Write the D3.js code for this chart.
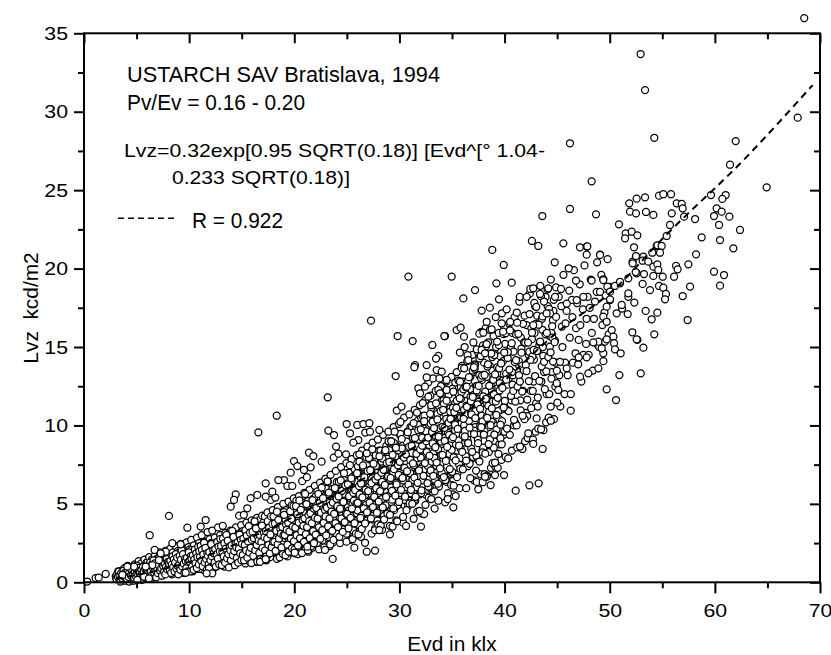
<!DOCTYPE html>
<html lang="en">
<head>
<meta charset="UTF-8">
<title>Lvz vs Evd</title>
<style>
  body { margin: 0; background: #fff; }
  svg text { font-family: "Liberation Sans", Arial, sans-serif; fill: #000; }
</style>
</head>
<body>
<div id="chart"></div>
<script src="https://d3js.org/d3.v7.min.js"></script>
<script>
// tick values
var xMajor = [0, 10, 20, 30, 40, 50, 60, 70];
var xMinor = [5, 15, 25, 35, 45, 55, 65];
var yMajor = [0, 5, 10, 15, 20, 25, 30, 35];
var yMinor = [2.5, 7.5, 12.5, 17.5, 22.5, 27.5, 32.5];

// dashed fit curve
var fitEvd = [3, 10, 20, 30, 38.6, 45.3, 50.3, 55.3, 62.7, 69.3];
var fitLvz = [0.2, 1.3, 4.2, 8.0, 12.05, 16.1, 18.6, 22.1, 26.9, 31.7];

// points that stand apart, read one by one  [Evd, Lvz]
var sparsePts = [
  [68.5,35.97],[52.94,33.68],[53.36,31.38],[54.24,28.34],[46.22,27.99],[61.98,28.13],[67.88,29.62],[61.44,26.62],
  [48.28,25.56],[64.93,25.18],[46.22,23.8],[48.7,23.46],[51.86,24.16],[52.56,24.46],[53.36,24.54],[54.69,24.65],
  [55.1,24.74],[55.83,24.74],[56.37,24.16],[56.85,24.12],[56.94,23.84],[53.45,23.61],[54.15,23.42],[51.93,23.63],
  [52.5,23.52],[55.9,23.52],[57.07,23.31],[58.12,23.16],[59.63,24.69],[61.03,24.69],[60.71,24.44],[60.17,23.84],
  [60.65,23.63],[61.38,23.31],[59.92,23.35],[60.4,22.78],[62.39,22.46],[58.75,21.99],[60.49,21.82],[61.76,21.29],
  [50.88,22.82],[51.52,22.25],[52.09,22.35],[52.63,22.12],[51.46,21.93],[55.42,22.08],[55.73,22.78],[54.47,21.44],
  [54.78,21.44],[52.31,21.36],[47.17,21.36],[47.81,21.4],[45.59,21.61],
  [43.59,23.35],[42.6,21.76],[43.21,21.44],[47.87,21.42],[47.81,20.89],[49.08,20.89],[38.83,21.19],[39.92,20.23],
  [44.77,20.4],[46.1,20.02],[52.18,20.44],[37.19,18.63],[39.22,19.06],[40.68,19.1],[36.08,18.1],[39.47,18.04],
  [37.82,17.32],[38.6,17.51],[38.3,16.61],[39.73,16.51],[34.33,15.7],[35.44,16.08],[35.82,16.23],[37.82,15.93],
  [37.6,15.85],[40.51,16.06],[41.2,16.55],[42.1,18.2],[42.73,18.74],[43.37,18.38],[43.75,17.9],[44.32,17.14],
  [44.0,17.14],[42.73,16.4],[44.16,18.74],[45.37,18.7],[46.79,19.24],[48.28,19.24],[49.39,19.32],[44.8,18.2],
  [45.91,17.77],[46.86,17.99],[47.49,18.2],[48.76,18.52],[49.08,18.52],[50.03,18.84],[50.98,19.06],[51.77,19.38],
  [52.56,19.7],[51.77,18.2],[51.17,17.45],[50.03,17.99],
  [58.21,20.91],[57.48,20.27],[56.31,20.17],[56.46,19.95],[56.12,19.48],[59.92,19.8],[60.87,19.59],[60.49,18.91],
  [57.64,18.85],[56.94,18.25],[57.41,16.72],[54.53,17.19],[53.99,16.77],[53.42,17.3],[54.24,15.81],[52.15,15.94],
  [52.63,15.45],[53.2,14.96],[52.5,20.8],[53.2,20.76],[54.05,21.01],[54.53,21.48],[54.94,21.44],[54.78,21.01],
  [52.18,20.34],[53.13,20.5],[53.67,20.44],[54.15,20.12],[54.53,20.27],[54.62,19.91],[54.15,19.53],[53.26,19.65],
  [52.47,19.78],[55.04,19.48],[53.83,18.63],[54.69,18.89],[55.1,18.78],[55.35,18.38],[55.26,18.04],[53.13,19.02],
  [51.77,18.42],[52.34,17.83],[51.14,17.68],[50.66,17.15],[51.71,17.1],[50.03,18.04],[49.39,19.27],[49.08,20.87],
  [49.78,18.85],[50.5,18.89],[50.98,19.16],[50.03,18.53],[49.71,17.57],[49.39,16.93],[49.71,16.61],[50.19,16.08],
  [50.35,15.66],[49.55,15.34],[50.41,15.24],[50.5,14.85],[51.04,14.6],[49.39,14.6],
  [52.56,15.49],[49.71,15.49],[49.24,14.92],[48.92,15.34],[48.44,15.3],[47.05,15.45],[47.81,14.34],[47.05,14.34],
  [48.92,13.64],[47.97,13.32],[47.18,13.11],[50.92,13.21],[52.95,13.32],[49.71,12.3],[50.6,11.62],[46.29,10.94],
  [45.91,13.64],[45.27,14.06],[44.96,12.69],[45.11,12.26],[45.02,11.45],[44.39,11.2],[44.39,10.3],[43.47,9.75],
  [43.05,10.45],[41.72,10.62],[43.62,8.5],[42.73,8.82],[42.26,9.5],[41.47,8.65],[39.95,6.84],[39.09,7.63],
  [38.3,6.73],[41.06,5.84],[42.36,6.18],[43.24,6.31],
  [30.85,19.49],[34.97,19.49],[27.3,16.68],[29.83,15.7],[31.26,15.38],[34.27,15.7],[33.13,15.13],[36.14,15.66],
  [38.77,16.13],[37.98,15.91],[37.35,14.85],[37.82,14.81],[38.14,14.6],[36.55,14.17],[37.09,13.71],[33.7,14.43],
  [33.48,14.26],[31.48,13.85],[31.42,13.71],[32.59,13.85],[29.64,13.15],[33.54,13.53],[34.02,13.43],[33.8,13.0],
  [34.49,12.9],[32.59,13.07],[31.8,12.37],[32.43,12.47],[31.96,12.05],[32.75,11.83],[33.7,12.26],[33.86,12.05],
  [34.49,12.26],[35.13,12.15],[35.76,12.79],[36.4,12.47],[23.18,11.79],[24.98,10.09],[25.99,10.03],[26.57,10.09],
  [27.14,10.14],[23.24,9.67],[23.78,9.39],[25.3,9.5],[26.09,9.07],[28.09,9.71],[21.4,8.26],[21.81,8.05],
  [23.97,8.65],[24.92,8.16],[25.62,8.9],[26.19,8.16],[26.89,8.22],
  [0.3,0.05],[1.1,0.27],[1.4,0.3],[2.06,0.53],[18.33,10.62],[16.58,9.56],[8.08,4.23],[6.25,3.0],
  [6.72,2.06],[19.97,7.73],[20.29,7.41],[20.92,7.16],[21.56,7.33],[19.66,6.99],[19.02,6.52],[18.48,6.52],
  [19.34,6.14],[19.81,6.14],[17.28,6.31],[17.91,5.78],[17.28,5.46],[14.43,5.61],[14.27,5.25],[15.85,5.36],
  [16.48,5.57],[13.95,4.82],[15.53,4.72],[11.57,3.97],[11.1,3.55],[9.83,3.48],[8.4,2.49],[9.19,2.42],
  [7.77,1.95],[7.29,1.85],[7.13,1.42],[6.5,1.1],[5.87,1.0],[4.76,1.0],[4.12,1.0],[3.65,0.47],
  [5.71,0.36],[6.18,0.25],[5.07,0.15],[11.89,0.89],[12.2,0.57],[11.66,0.57],[9.67,0.61],[16.74,1.31],
  [17.28,1.47],[20.04,1.89],[21.24,2.27],[21.87,2.49],
  [23.65,1.49],[25.71,2.21],[26.89,1.95],[27.68,2.02],[26.73,2.52],[28.09,3.33],[29.1,3.06],[30.63,3.59],
  [32.05,3.55],[35.13,4.78],[34.59,5.31],[37.5,5.93],[38.68,6.2],[37.92,6.38],[39.09,6.84],[38.14,6.73],
  [22.92,2.06],[22.6,7.69]
];

// dense band, Evd 3 - 13
var bandLow = [
  [3.1,0.2],[3.2,0.45],[3.3,0.3],[3.35,0.6],[3.4,0.15],[3.5,0.5],[3.55,0.35],[3.6,0.75],[3.7,0.25],[3.75,0.55],
  [3.8,0.4],[3.85,0.9],[3.9,0.1],[3.95,0.65],[3.45,0.05],[3.65,0.45],[3.25,0.7],[3.85,0.3],
  [4.0,0.3],[4.05,0.8],[4.1,0.55],[4.15,1.05],[4.2,0.2],[4.25,0.65],[4.3,0.4],[4.35,0.9],[4.4,0.5],[4.45,0.15],
  [4.5,0.7],[4.55,0.35],[4.6,1.0],[4.65,0.55],[4.7,0.25],[4.75,0.8],[4.8,0.45],[4.85,1.15],[4.9,0.6],[4.95,0.3],
  [4.3,0.05],[4.7,0.1],
  [5.0,0.5],[5.05,1.1],[5.1,0.3],[5.15,0.75],[5.2,1.35],[5.25,0.45],[5.3,0.9],[5.35,0.2],[5.4,0.6],[5.45,1.2],
  [5.5,0.4],[5.55,0.8],[5.6,1.0],[5.65,0.55],[5.7,0.3],[5.75,1.45],[5.8,0.7],[5.85,0.95],[5.9,0.5],[5.95,1.25],
  [5.5,0.15],[5.2,0.65],
  [6.0,0.6],[6.05,1.3],[6.1,0.4],[6.15,0.95],[6.2,1.6],[6.25,0.7],[6.3,1.1],[6.35,0.35],[6.4,0.85],[6.45,1.45],
  [6.5,0.55],[6.55,1.0],[6.6,1.25],[6.65,0.75],[6.7,0.45],[6.75,1.7],[6.8,0.9],[6.85,1.15],[6.9,0.6],[6.95,1.5],
  [6.5,0.3],[6.8,0.4],
  [7.0,0.7],[7.05,1.5],[7.1,0.5],[7.15,1.1],[7.2,1.9],[7.25,0.8],[7.3,1.3],[7.35,0.45],[7.4,1.0],[7.45,1.7],
  [7.5,0.65],[7.55,1.2],[7.6,1.45],[7.65,0.9],[7.7,0.55],[7.75,2.0],[7.8,1.05],[7.85,1.35],[7.9,0.75],[7.95,1.8],
  [7.3,0.6],[7.7,1.2],
  [8.0,0.8],[8.05,1.7],[8.1,0.6],[8.15,1.25],[8.2,2.15],[8.25,0.95],[8.3,1.45],[8.35,0.5],[8.4,1.15],[8.45,1.9],
  [8.5,0.75],[8.55,1.35],[8.6,1.6],[8.65,1.0],[8.7,0.65],[8.75,2.3],[8.8,1.2],[8.85,1.5],[8.9,0.85],[8.95,2.0],
  [8.3,1.05],[8.7,1.3],[8.5,0.55],
  [9.0,0.9],[9.05,1.9],[9.1,0.7],[9.15,1.4],[9.2,2.45],[9.25,1.05],[9.3,1.6],[9.35,0.6],[9.4,1.3],[9.45,2.1],
  [9.5,0.85],[9.55,1.5],[9.6,1.8],[9.65,1.15],[9.7,0.75],[9.75,2.55],[9.8,1.35],[9.85,1.65],[9.9,0.95],[9.95,2.25],
  [9.3,1.2],[9.7,1.45],[9.5,1.0],
  [10.0,1.0],[10.05,2.1],[10.1,0.75],[10.15,1.55],[10.2,2.7],[10.25,1.2],[10.3,1.8],[10.35,0.7],[10.4,1.45],[10.45,2.35],
  [10.5,0.95],[10.55,1.65],[10.6,2.0],[10.65,1.3],[10.7,0.85],[10.75,2.85],[10.8,1.5],[10.85,1.85],[10.9,1.1],[10.95,2.5],
  [10.3,1.35],[10.7,1.6],[10.5,1.15],[10.2,1.25],[10.85,1.4],
  [11.0,1.1],[11.05,2.3],[11.1,0.85],[11.15,1.7],[11.2,3.0],[11.25,1.35],[11.3,2.0],[11.35,0.8],[11.4,1.6],[11.45,2.6],
  [11.5,1.05],[11.55,1.8],[11.6,2.2],[11.65,1.45],[11.7,0.95],[11.75,3.2],[11.8,1.65],[11.85,2.05],[11.9,1.2],[11.95,2.75],
  [11.3,1.5],[11.7,1.75],[11.5,1.3],[11.2,1.45],[11.85,1.55],
  [12.0,1.2],[12.05,2.5],[12.1,0.95],[12.15,1.85],[12.2,3.3],[12.25,1.5],[12.3,2.2],[12.35,0.9],[12.4,1.75],[12.45,2.85],
  [12.5,1.15],[12.55,2.0],[12.6,2.4],[12.65,1.6],[12.7,1.05],[12.75,3.5],[12.8,1.8],[12.85,2.25],[12.9,1.3],[12.95,3.0],
  [12.3,1.65],[12.7,1.9],[12.5,1.45],[12.2,1.6],[12.85,1.7]
];

// dense band, Evd 13 - 25
var bandMid = [
  [13.0,1.35],[13.05,2.75],[13.1,1.3],[13.15,2.05],[13.2,3.6],[13.25,1.65],[13.3,2.4],[13.35,1.0],[13.4,1.95],[13.45,3.15],
  [13.5,1.3],[13.55,2.2],[13.6,2.65],[13.65,1.75],[13.7,1.15],[13.75,3.1],[13.8,2.0],[13.85,2.5],[13.9,1.45],[13.95,3.3],
  [13.3,1.85],[13.7,2.1],[13.5,1.6],[13.2,1.75],[13.85,1.9],
  [14.0,1.5],[14.05,3.0],[14.1,1.15],[14.15,2.25],[14.2,3.2],[14.25,1.8],[14.3,2.65],[14.35,1.1],[14.4,2.15],[14.45,3.5],
  [14.5,1.4],[14.55,2.4],[14.6,2.9],[14.65,1.95],[14.7,1.6],[14.75,4.25],[14.8,2.2],[14.85,2.75],[14.9,1.6],[14.95,3.65],
  [14.3,2.05],[14.7,2.3],[14.5,1.75],[14.2,1.9],[14.85,2.1],
  [15.0,1.65],[15.05,3.25],[15.1,1.6],[15.15,2.45],[15.2,4.3],[15.25,1.95],[15.3,2.9],[15.35,1.2],[15.4,2.35],[15.45,3.8],
  [15.5,1.55],[15.55,2.6],[15.6,3.15],[15.65,2.15],[15.7,1.35],[15.75,3.4],[15.8,2.4],[15.85,3.0],[15.9,1.75],[15.95,3.95],
  [15.3,2.25],[15.7,2.5],[15.5,1.9],[15.2,2.1],[15.85,2.3],
  [16.0,1.8],[16.05,3.5],[16.1,1.8],[16.15,2.65],[16.2,3.7],[16.25,2.1],[16.3,3.15],[16.35,1.3],[16.4,2.55],[16.45,4.1],
  [16.5,1.7],[16.55,2.8],[16.6,3.4],[16.65,2.3],[16.7,1.9],[16.75,4.0],[16.8,2.6],[16.85,3.25],[16.9,1.9],[16.95,4.25],
  [16.3,2.45],[16.7,2.7],[16.5,2.05],[16.2,2.25],[16.85,2.5],
  [17.0,1.95],[17.05,3.8],[17.1,1.45],[17.15,2.9],[17.2,4.2],[17.25,2.3],[17.3,3.4],[17.35,1.4],[17.4,2.8],[17.45,4.45],
  [17.5,1.85],[17.55,3.05],[17.6,3.7],[17.65,2.5],[17.7,1.6],[17.75,5.25],[17.8,2.85],[17.85,3.55],[17.9,2.1],[17.95,4.6],
  [17.3,2.65],[17.7,2.95],[17.5,2.25],[17.2,2.45],[17.85,2.75],
  [18.0,2.1],[18.05,4.1],[18.1,2.1],[18.15,3.15],[18.2,5.4],[18.25,2.5],[18.3,3.7],[18.35,1.5],[18.4,3.0],[18.45,4.8],
  [18.5,2.0],[18.55,3.3],[18.6,4.0],[18.65,2.7],[18.7,2.2],[18.75,4.3],[18.8,3.1],[18.85,3.85],[18.9,2.3],[18.95,5.0],
  [18.3,2.85],[18.7,3.2],[18.5,2.45],[18.2,2.65],[18.85,2.95],
  [19.0,2.25],[19.05,4.4],[19.1,2.3],[19.15,3.35],[19.2,4.6],[19.25,2.7],[19.3,3.95],[19.35,1.65],[19.4,3.2],[19.45,5.15],
  [19.5,2.15],[19.55,3.55],[19.6,4.3],[19.65,2.9],[19.7,1.9],[19.75,4.9],[19.8,3.3],[19.85,4.1],[19.9,2.45],[19.95,5.35],
  [19.3,3.05],[19.7,3.45],[19.5,2.6],[19.2,2.85],[19.85,3.15],
  [20.0,2.4],[20.05,4.75],[20.1,1.85],[20.15,3.6],[20.2,5.2],[20.25,2.9],[20.3,4.25],[20.35,1.8],[20.4,3.45],[20.45,5.5],
  [20.5,2.3],[20.55,3.8],[20.6,4.6],[20.65,3.1],[20.7,2.6],[20.75,6.45],[20.8,3.55],[20.85,4.4],[20.9,2.6],[20.95,5.7],
  [20.3,3.3],[20.7,3.7],[20.5,2.8],[20.2,3.05],[20.85,3.4],
  [21.0,2.6],[21.05,5.1],[21.1,2.6],[21.15,3.9],[21.2,6.7],[21.25,3.15],[21.3,4.6],[21.35,1.95],[21.4,3.75],[21.45,5.9],
  [21.5,2.5],[21.55,4.1],[21.6,5.0],[21.65,3.35],[21.7,2.2],[21.75,5.3],[21.8,3.85],[21.85,4.75],[21.9,2.8],[21.95,6.15],
  [21.3,3.6],[21.7,4.0],[21.5,3.05],[21.2,3.3],[21.85,3.7],
  [22.0,2.8],[22.05,5.5],[22.1,2.9],[22.15,4.2],[22.2,5.8],[22.25,3.4],[22.3,4.95],[22.35,2.1],[22.4,4.05],[22.45,6.35],
  [22.5,2.7],[22.55,4.4],[22.6,5.4],[22.65,3.6],[22.7,3.0],[22.75,6.1],[22.8,4.15],[22.85,5.1],[22.9,3.0],[22.95,6.6],
  [22.3,3.9],[22.7,4.3],[22.5,3.3],[22.2,3.55],[22.85,4.0],
  [23.0,3.05],[23.05,5.95],[23.1,2.35],[23.15,4.6],[23.2,6.4],[23.25,3.7],[23.3,5.35],[23.35,2.3],[23.4,4.45],[23.45,6.85],
  [23.5,2.95],[23.55,4.8],[23.6,5.8],[23.65,3.95],[23.7,2.55],[23.75,7.95],[23.8,4.5],[23.85,5.5],[23.9,3.25],[23.95,7.1],
  [23.3,4.25],[23.7,4.7],[23.5,3.6],[23.2,3.9],[23.85,4.4],
  [24.0,3.3],[24.05,6.4],[24.1,3.3],[24.15,5.0],[24.2,8.2],[24.25,4.0],[24.3,5.8],[24.35,2.5],[24.4,4.85],[24.45,7.35],
  [24.5,3.2],[24.55,5.2],[24.6,6.25],[24.65,4.3],[24.7,3.4],[24.75,6.7],[24.8,4.9],[24.85,5.95],[24.9,3.5],[24.95,7.6],
  [24.3,4.6],[24.7,5.1],[24.5,3.9],[24.2,4.2],[24.85,4.75]
];

// dense band, Evd 25 - 37
var bandUp = [
  [25.0,3.55],[25.05,6.9],[25.1,3.6],[25.15,5.4],[25.2,7.0],[25.25,4.3],[25.3,6.25],[25.35,2.7],[25.4,5.2],[25.45,7.85],
  [25.5,3.45],[25.55,5.6],[25.6,6.75],[25.65,4.65],[25.7,3.0],[25.75,7.2],[25.8,5.3],[25.85,6.4],[25.9,3.8],[25.95,8.1],
  [25.3,4.95],[25.7,5.5],[25.5,4.2],[25.2,4.5],[25.85,5.15],
  [26.0,3.8],[26.05,7.4],[26.1,3.0],[26.15,5.8],[26.2,7.7],[26.25,4.6],[26.3,6.7],[26.35,2.9],[26.4,5.6],[26.45,8.4],
  [26.5,3.7],[26.55,6.0],[26.6,7.25],[26.65,5.0],[26.7,4.0],[26.75,9.55],[26.8,5.7],[26.85,6.85],[26.9,4.1],[26.95,8.65],
  [26.3,5.3],[26.7,5.9],[26.5,4.5],[26.2,4.85],[26.85,5.5],
  [27.0,4.1],[27.05,7.9],[27.1,4.2],[27.15,6.3],[27.2,9.6],[27.25,5.0],[27.3,7.2],[27.35,3.1],[27.4,6.1],[27.45,8.9],
  [27.5,4.0],[27.55,6.5],[27.6,7.8],[27.65,5.4],[27.7,3.45],[27.75,8.1],[27.8,6.2],[27.85,7.4],[27.9,4.4],[27.95,9.1],
  [27.3,5.75],[27.7,6.4],[27.5,4.9],[27.2,5.25],[27.85,6.0],
  [28.0,4.4],[28.05,8.4],[28.1,4.5],[28.15,6.8],[28.2,8.4],[28.25,5.4],[28.3,7.7],[28.35,3.35],[28.4,6.6],[28.45,9.4],
  [28.5,4.3],[28.55,7.0],[28.6,8.3],[28.65,5.8],[28.7,4.6],[28.75,8.7],[28.8,6.7],[28.85,7.9],[28.9,4.7],[28.95,9.6],
  [28.3,6.2],[28.7,6.9],[28.5,5.3],[28.2,5.65],[28.85,6.5],
  [29.0,4.7],[29.05,8.9],[29.1,3.6],[29.15,7.3],[29.2,9.0],[29.25,5.8],[29.3,8.2],[29.35,3.55],[29.4,7.1],[29.45,9.9],
  [29.5,4.6],[29.55,7.5],[29.6,8.8],[29.65,6.2],[29.7,3.95],[29.75,10.95],[29.8,7.2],[29.85,8.4],[29.9,5.0],[29.95,10.1],
  [29.3,6.7],[29.7,7.4],[29.5,5.7],[29.2,6.05],[29.85,7.0],
  [30.0,5.0],[30.05,9.4],[30.1,5.0],[30.15,7.8],[30.2,11.2],[30.25,6.2],[30.3,8.7],[30.35,3.8],[30.4,7.6],[30.45,10.5],
  [30.5,4.9],[30.55,8.0],[30.6,9.3],[30.65,6.6],[30.7,5.2],[30.75,9.6],[30.8,7.7],[30.85,8.9],[30.9,5.3],[30.95,10.7],
  [30.3,7.2],[30.7,7.9],[30.5,6.1],[30.2,6.5],[30.85,7.5],
  [31.0,5.3],[31.05,9.9],[31.1,5.4],[31.15,8.3],[31.2,9.9],[31.25,6.6],[31.3,9.2],[31.35,4.05],[31.4,8.1],[31.45,11.0],
  [31.5,5.2],[31.55,8.5],[31.6,9.8],[31.65,7.0],[31.7,4.5],[31.75,10.3],[31.8,8.2],[31.85,9.4],[31.9,5.6],[31.95,11.3],
  [31.3,7.7],[31.7,8.4],[31.5,6.5],[31.2,6.9],[31.85,8.0],
  [32.0,5.7],[32.05,10.5],[32.1,4.4],[32.15,8.9],[32.2,10.6],[32.25,7.0],[32.3,9.8],[32.35,4.35],[32.4,8.6],[32.45,11.6],
  [32.5,5.6],[32.55,9.1],[32.6,10.4],[32.65,7.5],[32.7,5.9],[32.75,12.75],[32.8,8.8],[32.85,10.0],[32.9,6.0],[32.95,11.9],
  [32.3,8.2],[32.7,9.0],[32.5,7.0],[32.2,7.4],[32.85,8.6],
  [33.0,6.1],[33.05,11.1],[33.1,6.0],[33.15,9.4],[33.2,13.0],[33.25,7.5],[33.3,10.3],[33.35,4.7],[33.4,9.1],[33.45,12.2],
  [33.5,6.0],[33.55,9.6],[33.6,10.9],[33.65,8.0],[33.7,5.2],[33.75,11.2],[33.8,9.3],[33.85,10.6],[33.9,6.4],[33.95,12.5],
  [33.3,8.7],[33.7,9.5],[33.5,7.4],[33.2,7.9],[33.85,9.1],
  [34.0,6.6],[34.05,11.6],[34.1,6.5],[34.15,9.9],[34.2,11.6],[34.25,8.0],[34.3,10.8],[34.35,5.1],[34.4,9.6],[34.45,12.8],
  [34.5,6.4],[34.55,10.1],[34.6,11.4],[34.65,8.5],[34.7,6.8],[34.75,12.0],[34.8,9.8],[34.85,11.1],[34.9,6.9],[34.95,13.1],
  [34.3,9.2],[34.7,10.0],[34.5,7.9],[34.2,8.4],[34.85,9.6],
  [35.0,7.0],[35.05,12.2],[35.1,5.6],[35.15,10.4],[35.2,12.4],[35.25,8.4],[35.3,11.4],[35.35,5.5],[35.4,10.1],[35.45,13.4],
  [35.5,6.9],[35.55,10.6],[35.6,12.0],[35.65,9.0],[35.7,6.0],[35.75,14.65],[35.8,10.3],[35.85,11.7],[35.9,7.4],[35.95,13.8],
  [35.3,9.7],[35.7,10.5],[35.5,8.4],[35.2,8.9],[35.85,10.1],
  [36.0,7.5],[36.05,12.8],[36.1,7.3],[36.15,11.0],[36.2,15.0],[36.25,8.9],[36.3,12.0],[36.35,6.0],[36.4,10.7],[36.45,14.1],
  [36.5,7.4],[36.55,11.2],[36.6,12.6],[36.65,9.5],[36.7,7.8],[36.75,13.1],[36.8,10.9],[36.85,12.3],[36.9,7.9],[36.95,14.5],
  [36.3,10.3],[36.7,11.1],[36.5,8.9],[36.2,9.4],[36.85,10.7]
];

// dense band, Evd 37 - 50
var bandTop = [
  [37.0,8.0],[37.05,13.4],[37.1,6.5],[37.15,11.5],[37.2,13.9],[37.25,9.4],[37.3,12.5],[37.35,6.4],[37.4,11.2],[37.45,14.7],
  [37.5,7.8],[37.55,11.7],[37.6,13.2],[37.65,10.0],[37.7,6.9],[37.75,15.95],[37.8,11.4],[37.85,12.9],[37.9,8.4],[37.95,15.1],
  [37.3,10.8],[37.7,11.6],[37.5,9.4],[37.2,9.9],
  [38.0,8.5],[38.05,14.0],[38.1,6.9],[38.15,12.1],[38.2,16.2],[38.25,9.9],[38.3,13.1],[38.35,6.8],[38.4,11.8],[38.45,15.3],
  [38.5,8.3],[38.55,12.3],[38.6,13.8],[38.65,10.5],[38.7,7.3],[38.75,14.6],[38.8,12.0],[38.85,13.5],[38.9,8.9],[38.95,15.7],
  [38.3,11.4],[38.7,12.2],[38.5,9.9],[38.2,10.4],
  [39.0,9.0],[39.05,14.6],[39.1,7.4],[39.15,12.7],[39.2,15.0],[39.25,10.4],[39.3,13.7],[39.35,7.3],[39.4,12.4],[39.45,15.9],
  [39.5,8.8],[39.55,12.9],[39.6,14.4],[39.65,11.0],[39.7,7.8],[39.75,17.15],[39.8,12.6],[39.85,14.1],[39.9,9.4],[39.95,16.3],
  [39.3,12.0],[39.7,12.8],[39.5,10.4],
  [40.0,9.6],[40.05,15.2],[40.1,8.0],[40.15,13.3],[40.2,17.4],[40.25,11.0],[40.3,14.3],[40.35,7.9],[40.4,13.0],[40.45,16.5],
  [40.5,9.4],[40.55,13.5],[40.6,15.0],[40.65,11.6],[40.7,8.4],[40.75,15.9],[40.8,13.2],[40.85,14.7],[40.9,10.0],[40.95,16.9],
  [40.3,12.6],[40.7,13.4],
  [41.0,10.2],[41.1,15.8],[41.2,8.6],[41.3,13.9],[41.4,17.9],[41.5,11.6],[41.6,14.9],[41.7,8.5],[41.8,13.6],[41.9,17.0],
  [41.15,10.0],[41.35,14.1],[41.55,15.6],[41.75,12.2],[41.95,9.0],[41.45,18.2],[41.65,13.8],[41.85,15.3],
  [42.0,10.8],[42.1,16.4],[42.2,9.2],[42.3,14.5],[42.4,18.4],[42.5,12.2],[42.6,15.5],[42.7,9.1],[42.8,14.2],[42.9,17.6],
  [42.15,10.6],[42.35,14.7],[42.55,16.2],[42.75,12.8],[42.95,9.6],[42.45,18.7],[42.65,14.4],[42.85,15.9],
  [43.0,11.4],[43.1,17.0],[43.2,9.8],[43.3,15.1],[43.4,18.9],[43.5,12.8],[43.6,16.1],[43.7,9.7],[43.8,14.8],[43.9,18.2],
  [43.15,11.2],[43.35,15.3],[43.55,16.8],[43.75,13.4],[43.95,10.2],[43.65,15.0],
  [44.0,12.0],[44.1,17.6],[44.2,10.5],[44.3,15.7],[44.4,19.3],[44.5,13.4],[44.6,16.7],[44.7,10.4],[44.8,15.4],[44.9,18.8],
  [44.25,12.0],[44.45,15.9],[44.65,17.3],[44.85,14.0],[44.55,15.6],
  [45.0,12.6],[45.15,18.2],[45.3,11.2],[45.45,16.3],[45.6,19.6],[45.75,14.0],[45.9,17.3],[45.2,13.2],[45.5,15.0],[45.8,16.5],
  [45.4,17.6],[45.7,12.0],
  [46.0,13.2],[46.15,18.6],[46.3,12.0],[46.45,16.9],[46.6,19.9],[46.75,14.6],[46.9,17.8],[46.2,15.6],[46.5,14.0],[46.8,16.2],
  [46.4,18.0],
  [47.0,13.9],[47.15,19.0],[47.3,12.8],[47.45,17.4],[47.6,20.2],[47.75,15.2],[47.9,18.2],[47.2,16.4],[47.5,14.5],[47.8,16.8],
  [48.0,14.5],[48.2,19.3],[48.4,13.5],[48.6,17.9],[48.8,20.4],[48.3,15.9],[48.5,16.8],[48.9,15.1],[48.1,17.5],
  [49.0,15.0],[49.2,19.6],[49.4,14.1],[49.6,18.3],[49.8,20.6],[49.3,16.4],[49.5,17.2],[49.9,15.8]
];

// second pass over the dark core of the band, Evd 3 - 45
var bandCore = [
  [3.02,.38],[3.09,.23],[3.16,.53],[3.23,.33],[3.31,.68],[3.38,.44],[3.46,.18],[3.53,.58],[3.61,.27],[3.68,.49],[3.76,.74],[3.83,.35],[3.9,.62],[3.97,.41],
  [4.02,.55],[4.09,.24],[4.16,.73],[4.23,.35],[4.31,.62],[4.38,.92],[4.46,.45],[4.53,.78],[4.61,.52],[4.68,.48],[4.76,.3],[4.83,.66],[4.9,.42],[4.97,.85],
  [5.02,1.07],[5.09,.56],[5.16,.92],[5.23,.64],[5.31,.6],[5.38,.4],[5.46,.79],[5.53,.53],[5.61,.99],[5.68,.67],[5.76,.34],[5.83,.86],[5.9,.46],[5.97,.74],
  [6.02,.51],[6.09,.95],[6.16,.66],[6.23,1.17],[6.31,.82],[6.38,.45],[6.46,1.03],[6.53,.58],[6.61,.89],[6.68,1.26],[6.76,.69],[6.83,1.09],[6.9,.78],[6.97,.73],
  [7.02,.55],[7.09,1.19],[7.16,.7],[7.23,1.05],[7.31,1.45],[7.38,.83],[7.46,1.27],[7.53,.92],[7.61,.87],[7.68,.63],[7.76,1.11],[7.83,.78],[7.9,1.35],[7.97,.96],
  [8.02,.96],[8.09,1.44],[8.16,1.06],[8.23,1.0],[8.31,.74],[8.38,1.27],[8.46,.91],[8.53,1.53],[8.61,1.11],[8.68,.66],[8.76,1.36],[8.83,.82],[8.9,1.2],[8.97,1.64],
  [9.02,1.45],[9.09,1.05],[9.16,1.75],[9.23,1.27],[9.31,.77],[9.38,1.56],[9.46,.95],[9.53,1.38],[9.61,1.87],[9.68,1.1],[9.76,1.65],[9.83,1.22],[9.9,1.16],[9.97,.86],
  [10.02,1.72],[10.09,1.07],[10.16,1.53],[10.23,2.06],[10.31,1.23],[10.38,1.82],[10.46,1.36],[10.53,1.29],[10.61,.97],[10.68,1.61],[10.76,1.18],[10.83,1.93],[10.9,1.42],[10.97,.87],
  [11.02,2.03],[11.09,1.52],[11.16,1.44],[11.23,1.09],[11.31,1.8],[11.38,1.32],[11.46,2.16],[11.53,1.58],[11.61,.98],[11.68,1.92],[11.76,1.19],[11.83,1.71],[11.9,2.3],[11.97,1.38],
  [12.02,1.46],[12.09,2.38],[12.16,1.75],[12.23,1.09],[12.31,2.12],[12.38,1.32],[12.46,1.88],[12.53,2.53],[12.61,1.53],[12.68,2.24],[12.76,1.68],[12.83,1.6],[12.9,1.2],[12.97,1.99],
  [13.02,1.45],[13.09,2.06],[13.16,2.77],[13.23,1.67],[13.31,2.45],[13.38,1.84],[13.46,1.75],[13.53,1.32],[13.61,2.17],[13.68,1.6],[13.76,2.6],[13.83,1.91],[13.9,1.19],[13.97,2.32],
  [14.02,2.03],[14.09,1.93],[14.16,1.48],[14.23,2.38],[14.31,1.78],[14.38,2.83],[14.46,2.11],[14.53,1.35],[14.61,2.54],[14.68,1.62],[14.76,2.26],[14.83,3.01],[14.9,1.85],[14.97,2.67],
  [15.02,3.1],[15.09,2.32],[15.16,1.51],[15.23,2.79],[15.31,1.8],[15.38,2.49],[15.46,3.29],[15.53,2.05],[15.61,2.93],[15.68,2.24],[15.76,2.14],[15.83,1.65],[15.9,2.62],[15.97,1.97],
  [16.02,2.7],[16.09,3.57],[16.16,2.21],[16.23,3.18],[16.31,2.42],[16.38,2.31],[16.46,1.78],[16.53,2.83],[16.61,2.12],[16.68,3.36],[16.76,2.51],[16.83,1.62],[16.9,3.02],[16.97,1.94],
  [17.02,2.51],[17.09,1.94],[17.16,3.07],[17.23,2.31],[17.31,3.63],[17.38,2.73],[17.46,1.77],[17.53,3.27],[17.61,2.12],[17.68,2.92],[17.76,3.86],[17.83,2.41],[17.9,3.44],[17.97,2.63],
  [18.02,2.94],[18.09,1.93],[18.16,3.52],[18.23,2.29],[18.31,3.15],[18.38,4.14],[18.46,2.61],[18.53,3.7],[18.61,2.84],[18.68,2.71],[18.76,2.11],[18.83,3.31],[18.9,2.5],[18.97,3.91],
  [19.02,4.47],[19.09,2.82],[19.16,3.99],[19.23,3.07],[19.31,2.93],[19.38,2.29],[19.46,3.57],[19.53,2.71],[19.61,4.22],[19.68,3.18],[19.76,2.09],[19.83,3.8],[19.9,2.48],[19.97,3.41],
  [20.02,2.46],[20.09,3.84],[20.16,2.91],[20.23,4.53],[20.31,3.42],[20.38,2.25],[20.46,4.08],[20.53,2.67],[20.61,3.66],[20.68,4.8],[20.76,3.03],[20.83,4.29],[20.9,3.3],[20.97,3.15],
  [21.02,2.46],[21.09,4.41],[21.16,2.91],[21.23,3.96],[21.31,5.18],[21.38,3.29],[21.46,4.64],[21.53,3.58],[21.61,3.42],[21.68,2.68],[21.76,4.16],[21.83,3.16],[21.9,4.89],[21.97,3.71],
  [22.02,3.55],[22.09,4.98],[22.16,3.86],[22.23,3.69],[22.31,2.91],[22.38,4.47],[22.46,3.42],[22.53,5.25],[22.61,4.0],[22.68,2.67],[22.76,4.74],[22.83,3.15],[22.9,4.27],[22.97,5.56],
  [23.02,4.79],[23.09,3.67],[23.16,5.62],[23.23,4.28],[23.31,2.88],[23.38,5.08],[23.46,3.38],[23.53,4.57],[23.61,5.94],[23.68,3.82],[23.76,5.33],[23.83,4.14],[23.9,3.96],[23.97,3.13],
  [24.02,5.47],[24.09,3.64],[24.16,4.93],[24.23,6.41],[24.31,4.11],[24.38,5.75],[24.46,4.46],[24.53,4.27],[24.61,3.37],[24.68,5.16],[24.76,3.95],[24.83,6.06],[24.9,4.62],[24.97,3.1],
  [25.02,6.17],[25.09,4.78],[25.16,4.57],[25.23,3.6],[25.31,5.54],[25.38,4.23],[25.46,6.5],[25.53,4.95],[25.61,3.31],[25.68,5.87],[25.76,3.9],[25.83,5.28],[25.9,6.88],[25.97,4.4],
  [26.02,4.59],[26.09,6.96],[26.16,5.34],[26.23,3.62],[26.31,6.3],[26.38,4.24],[26.46,5.69],[26.53,7.36],[26.61,4.76],[26.68,6.61],[26.76,5.16],[26.83,4.94],[26.9,3.93],[26.97,5.95],
  [27.02,4.57],[27.09,6.09],[27.16,7.84],[27.23,5.13],[27.31,7.06],[27.38,5.54],[27.46,5.31],[27.53,4.25],[27.61,6.37],[27.68,4.94],[27.76,7.43],[27.83,5.72],[27.9,3.93],[27.97,6.74],
  [28.02,5.92],[28.09,5.68],[28.16,4.58],[28.23,6.78],[28.31,5.3],[28.38,7.89],[28.46,6.11],[28.53,4.24],[28.61,7.17],[28.68,4.91],[28.76,6.5],[28.83,8.32],[28.9,5.49],[28.97,7.5],
  [29.02,8.43],[29.09,6.54],[29.16,4.56],[29.23,7.67],[29.31,5.27],[29.38,6.95],[29.46,8.89],[29.53,5.88],[29.61,8.02],[29.68,6.34],[29.76,6.09],[29.83,4.91],[29.9,7.26],[29.97,5.68],
  [30.02,7.41],[30.09,9.46],[30.16,6.27],[30.23,8.54],[30.31,6.76],[30.38,6.49],[30.46,5.25],[30.53,7.73],[30.61,6.06],[30.68,8.97],[30.76,6.98],[30.83,4.87],[30.9,8.16],[30.97,5.63],
  [31.02,6.96],[31.09,5.67],[31.16,8.25],[31.23,6.51],[31.31,9.54],[31.38,7.46],[31.46,5.28],[31.53,8.7],[31.61,6.06],[31.68,7.91],[31.76,10.04],[31.83,6.74],[31.9,9.09],[31.97,7.24],
  [32.02,7.95],[32.09,5.69],[32.16,9.23],[32.23,6.5],[32.31,8.42],[32.38,10.62],[32.46,7.2],[32.53,9.63],[32.61,7.72],[32.68,7.43],[32.76,6.1],[32.83,8.76],[32.9,6.97],[32.97,10.1],
  [33.02,11.29],[33.09,7.69],[33.16,10.25],[33.23,8.24],[33.31,7.94],[33.38,6.53],[33.46,9.34],[33.53,7.45],[33.61,10.74],[33.68,8.48],[33.76,6.11],[33.83,9.83],[33.9,6.96],[33.97,8.97],
  [34.02,6.97],[34.09,9.91],[34.16,7.93],[34.23,11.38],[34.31,9.02],[34.38,6.52],[34.46,10.42],[34.53,7.42],[34.61,9.53],[34.68,11.96],[34.76,8.18],[34.83,10.87],[34.9,8.76],[34.97,8.44],
  [35.02,7.04],[35.09,11.12],[35.16,7.97],[35.23,10.18],[35.31,12.73],[35.38,8.78],[35.46,11.59],[35.53,9.38],[35.61,9.05],[35.68,7.5],[35.76,10.59],[35.83,8.51],[35.9,12.13],[35.97,9.65],
  [36.02,9.37],[36.09,12.31],[36.16,10.0],[36.23,9.65],[36.31,8.04],[36.38,11.26],[36.46,9.09],[36.53,12.87],[36.61,10.28],[36.68,7.55],[36.76,11.82],[36.83,8.53],[36.9,10.84],[36.97,13.5],
  [37.02,11.93],[37.09,9.67],[37.16,13.61],[37.23,10.91],[37.31,8.07],[37.38,12.52],[37.46,9.09],[37.53,11.5],[37.61,14.27],[37.68,9.96],[37.76,13.03],[37.83,10.62],[37.9,10.26],[37.97,8.58],
  [38.02,13.22],[38.09,9.64],[38.16,12.15],[38.23,15.04],[38.31,10.56],[38.38,13.75],[38.46,11.24],[38.53,10.86],[38.61,9.11],[38.68,12.61],[38.76,10.25],[38.83,14.36],[38.9,11.54],[38.97,8.58],
  [39.02,14.49],[39.09,11.92],[39.16,11.53],[39.23,9.74],[39.31,13.32],[39.38,10.91],[39.46,15.12],[39.53,12.23],[39.61,9.19],[39.68,13.95],[39.76,10.28],[39.83,12.86],[39.9,15.82],[39.97,11.22],
  [40.02,11.56],[40.09,15.88],[40.16,12.92],[40.23,9.8],[40.31,14.68],[40.38,10.92],[40.46,13.56],[40.53,16.6],[40.61,11.88],[40.68,15.24],[40.76,12.6],[40.83,12.2],[40.9,10.36],[40.97,14.04],
  [41.02,11.52],[41.09,14.16],[41.16,17.2],[41.23,12.48],[41.31,15.84],[41.38,13.2],[41.46,12.8],[41.53,10.96],[41.61,14.64],[41.68,12.16],[41.76,16.48],[41.83,13.52],[41.9,10.4],[41.97,15.28],
  [42.02,13.86],[42.09,13.47],[42.16,11.65],[42.23,15.28],[42.31,12.83],[42.38,17.1],[42.46,14.18],[42.53,11.1],[42.61,15.91],[42.68,12.2],[42.76,14.81],[42.83,17.81],[42.9,13.15],[42.97,16.47],
  [43.02,17.56],[43.09,14.74],[43.16,11.78],[43.23,16.42],[43.31,12.84],[43.38,15.35],[43.46,18.24],[43.53,13.76],[43.61,16.95],[43.68,14.44],[43.76,14.06],[43.83,12.31],[43.9,15.81],[43.97,13.45],
  [44.02,15.9],[44.09,18.67],[44.16,14.36],[44.23,17.43],[44.31,15.02],[44.38,14.66],[44.46,12.98],[44.53,16.33],[44.61,14.07],[44.68,18.01],[44.76,15.31],[44.83,12.47],[44.9,16.92],[44.97,13.49]
];

// third pass, Evd 6 - 40, fills the gaps left by the two passes above
var bandExtra = [
  [6.03,.55],[6.1,1.03],[6.16,.4],[6.22,.84],[6.29,1.27],[6.35,.69],[6.42,1.11],[6.48,.48],[6.54,.94],[6.61,1.39],[6.67,.63],[6.73,1.2],[6.79,.76],[6.86,.32],[6.92,.99],[6.97,.88],
  [7.03,.58],[7.1,1.1],[7.16,1.59],[7.22,.75],[7.29,1.38],[7.35,.9],[7.42,.42],[7.48,1.15],[7.54,1.03],[7.61,.67],[7.67,1.19],[7.73,.5],[7.79,.98],[7.86,1.47],[7.92,.82],[7.97,1.29],
  [8.03,1.31],[8.1,1.18],[8.16,.78],[8.22,1.36],[8.29,.6],[8.35,1.13],[8.42,1.66],[8.48,.95],[8.54,1.46],[8.61,.69],[8.67,1.26],[8.73,1.8],[8.79,.88],[8.86,1.57],[8.92,1.04],[8.97,.51],
  [9.03,1.09],[9.1,1.68],[9.16,.8],[9.22,1.44],[9.29,2.05],[9.35,1.01],[9.42,1.79],[9.48,1.19],[9.54,.6],[9.61,1.51],[9.67,1.35],[9.73,.91],[9.79,1.56],[9.86,.7],[9.92,1.3],[9.97,1.9],
  [10.03,1.33],[10.1,.69],[10.16,1.67],[10.22,1.5],[10.29,1.02],[10.35,1.72],[10.42,.8],[10.48,1.44],[10.54,2.09],[10.61,1.22],[10.67,1.85],[10.73,.91],[10.79,1.6],[10.86,2.26],[10.92,1.14],[10.97,1.98],
  [11.03,1.61],[11.1,2.33],[11.16,1.37],[11.22,2.06],[11.29,1.02],[11.35,1.78],[11.42,2.51],[11.48,1.27],[11.54,2.2],[11.61,1.49],[11.67,.78],[11.73,1.86],[11.79,1.68],[11.86,1.15],[11.92,1.92],[11.97,.9],
  [12.03,1.41],[12.1,2.43],[12.16,1.65],[12.22,.86],[12.29,2.05],[12.35,1.85],[12.42,1.27],[12.48,2.12],[12.54,1.0],[12.61,1.78],[12.67,2.56],[12.73,1.51],[12.79,2.28],[12.86,1.14],[12.92,1.97],[12.97,2.77],
  [13.03,2.32],[13.1,1.1],[13.16,1.95],[13.22,2.8],[13.29,1.66],[13.35,2.49],[13.42,1.25],[13.48,2.15],[13.54,3.02],[13.61,1.54],[13.67,2.65],[13.73,1.8],[13.79,.95],[13.86,2.25],[13.92,2.03],[13.97,1.4],
  [14.03,2.36],[14.1,3.28],[14.16,1.72],[14.22,2.89],[14.29,1.99],[14.35,1.09],[14.42,2.46],[14.48,2.23],[14.54,1.56],[14.61,2.54],[14.67,1.25],[14.73,2.15],[14.79,3.04],[14.86,1.84],[14.92,2.71],[14.97,1.41],
  [15.03,2.45],[15.1,1.74],[15.16,2.79],[15.22,1.4],[15.29,2.37],[15.35,3.33],[15.42,2.03],[15.48,2.98],[15.54,1.57],[15.61,2.6],[15.67,3.58],[15.73,1.9],[15.79,3.16],[15.86,2.2],[15.92,1.23],[15.97,2.7],
  [16.03,3.23],[16.1,1.68],[16.16,2.81],[16.22,3.89],[16.29,2.05],[16.35,3.43],[16.42,2.37],[16.48,1.32],[16.54,2.93],[16.61,2.65],[16.67,1.87],[16.73,3.02],[16.79,1.5],[16.86,2.56],[16.92,3.62],[16.97,2.19],
  [17.03,1.45],[17.1,3.17],[17.16,2.88],[17.22,2.04],[17.29,3.27],[17.35,1.65],[17.42,2.78],[17.48,3.9],[17.54,2.39],[17.61,3.49],[17.67,1.85],[17.73,3.05],[17.79,4.2],[17.86,2.24],[17.92,3.71],[17.97,2.58],
  [18.03,4.19],[18.1,2.58],[18.16,3.75],[18.22,2.01],[18.29,3.28],[18.35,4.5],[18.42,2.42],[18.48,3.98],[18.54,2.79],[18.61,1.59],[18.67,3.41],[18.73,3.1],[18.79,2.22],[18.86,3.52],[18.92,1.8],[18.97,3.0],
  [19.03,4.3],[19.1,3.01],[19.16,1.73],[19.22,3.69],[19.29,3.35],[19.35,2.4],[19.42,3.8],[19.48,1.95],[19.54,3.24],[19.61,4.53],[19.67,2.79],[19.73,4.05],[19.79,2.17],[19.86,3.55],[19.92,4.86],[19.97,2.62],
  [20.03,2.1],[20.1,3.48],[20.16,4.86],[20.22,3.0],[20.29,4.35],[20.35,2.34],[20.42,3.81],[20.48,5.22],[20.54,2.82],[20.61,4.62],[20.67,3.24],[20.73,1.86],[20.79,3.96],[20.86,3.6],[20.92,2.58],[20.97,4.08],
  [21.03,5.63],[21.1,3.07],[21.16,4.99],[21.22,3.52],[21.29,2.04],[21.35,4.28],[21.42,3.9],[21.48,2.81],[21.54,4.41],[21.61,2.3],[21.67,3.77],[21.73,5.24],[21.79,3.26],[21.86,4.7],[21.92,2.56],[21.97,4.12],
  [22.03,3.04],[22.1,4.74],[22.16,2.5],[22.22,4.06],[22.29,5.63],[22.35,3.52],[22.42,5.05],[22.48,2.77],[22.54,4.44],[22.61,6.04],[22.67,3.32],[22.73,5.36],[22.79,3.79],[22.86,2.23],[22.92,4.61],[22.97,4.2],
  [23.03,2.99],[23.1,4.75],[23.16,6.44],[23.22,3.56],[23.29,5.72],[23.35,4.07],[23.42,2.41],[23.48,4.93],[23.54,4.5],[23.61,3.28],[23.67,5.08],[23.73,2.7],[23.79,4.36],[23.86,6.01],[23.92,3.78],[23.97,5.4],
  [24.03,5.32],[24.1,4.85],[24.16,3.52],[24.22,5.47],[24.29,2.9],[24.35,4.69],[24.42,6.49],[24.48,4.07],[24.54,5.83],[24.61,3.21],[24.67,5.12],[24.73,6.96],[24.79,3.84],[24.86,6.18],[24.92,4.38],[24.97,2.59],
  [25.03,4.36],[25.1,6.25],[25.16,3.44],[25.22,5.49],[25.29,7.47],[25.35,4.11],[25.42,6.63],[25.48,4.7],[25.54,2.76],[25.61,5.7],[25.67,5.2],[25.73,3.77],[25.79,5.87],[25.86,3.1],[25.92,5.03],[25.97,6.96],
  [26.03,5.07],[26.1,3.05],[26.16,6.13],[26.22,5.6],[26.29,4.1],[26.35,6.3],[26.42,3.4],[26.48,5.42],[26.54,7.45],[26.61,4.72],[26.67,6.7],[26.73,3.75],[26.79,5.91],[26.86,7.98],[26.92,4.46],[26.97,7.1],
  [27.03,5.82],[27.1,7.93],[27.16,5.08],[27.22,7.15],[27.29,4.07],[27.35,6.32],[27.42,8.48],[27.48,4.8],[27.54,7.56],[27.61,5.45],[27.67,3.33],[27.73,6.55],[27.79,6.0],[27.86,4.44],[27.92,6.74],[27.97,3.7],
  [28.03,5.15],[28.1,8.03],[28.16,5.82],[28.22,3.62],[28.29,6.98],[28.35,6.4],[28.42,4.77],[28.48,7.17],[28.54,4.0],[28.61,6.21],[28.67,8.42],[28.73,5.44],[28.79,7.6],[28.86,4.38],[28.92,6.74],[28.97,8.99],
  [29.03,7.67],[29.1,4.3],[29.16,6.65],[29.22,8.99],[29.29,5.83],[29.35,8.13],[29.42,4.71],[29.48,7.21],[29.54,9.6],[29.61,5.52],[29.67,8.58],[29.73,6.24],[29.79,3.89],[29.86,7.46],[29.92,6.85],[29.97,5.12],
  [30.03,7.68],[30.1,10.22],[30.16,5.9],[30.22,9.14],[30.29,6.65],[30.35,4.17],[30.42,7.95],[30.48,7.3],[30.54,5.46],[30.61,8.16],[30.67,4.6],[30.73,7.08],[30.79,9.57],[30.86,6.22],[30.92,8.65],[30.97,5.03],
  [31.03,7.8],[31.1,5.9],[31.16,8.7],[31.22,5.0],[31.29,7.58],[31.35,10.15],[31.42,6.68],[31.48,9.2],[31.54,5.45],[31.61,8.19],[31.67,10.82],[31.73,6.34],[31.79,9.7],[31.86,7.13],[31.92,4.55],[31.97,8.47],
  [32.03,9.75],[32.1,5.86],[32.16,8.71],[32.22,11.43],[32.29,6.79],[32.35,10.27],[32.42,7.6],[32.48,4.94],[32.54,9.0],[32.61,8.3],[32.67,6.33],[32.73,9.23],[32.79,5.4],[32.86,8.07],[32.92,10.74],[32.97,7.14],
  [33.03,5.31],[33.1,9.58],[33.16,8.85],[33.22,6.78],[33.29,9.83],[33.35,5.8],[33.42,8.61],[33.48,11.41],[33.54,7.63],[33.61,10.38],[33.67,6.29],[33.73,9.28],[33.79,12.14],[33.86,7.26],[33.92,10.92],[33.97,8.12],
  [34.03,12.09],[34.1,8.12],[34.16,11.0],[34.22,6.71],[34.29,9.85],[34.35,12.86],[34.42,7.74],[34.48,11.58],[34.54,8.63],[34.61,5.69],[34.67,10.17],[34.73,9.4],[34.79,7.22],[34.86,10.42],[34.92,6.2],[34.97,9.14],
  [35.03,12.33],[35.1,9.25],[35.16,6.16],[35.22,10.85],[35.29,10.05],[35.35,7.77],[35.42,11.12],[35.48,6.7],[35.54,9.78],[35.61,12.86],[35.67,8.71],[35.73,11.73],[35.79,7.24],[35.86,10.52],[35.92,13.67],[35.97,8.31],
  [36.03,7.2],[36.1,10.42],[36.16,13.64],[36.22,9.3],[36.29,12.45],[36.35,7.76],[36.42,11.19],[36.48,14.48],[36.54,8.88],[36.61,13.08],[36.67,9.86],[36.73,6.64],[36.79,11.54],[36.86,10.7],[36.92,8.32],[36.97,11.82],
  [37.03,15.29],[37.1,9.45],[37.16,13.83],[37.22,10.47],[37.29,7.12],[37.35,12.23],[37.42,11.35],[37.48,8.87],[37.54,12.52],[37.61,7.7],[37.67,11.06],[37.73,14.42],[37.79,9.89],[37.86,13.18],[37.92,8.28],[37.97,11.86],
  [38.03,9.42],[38.1,13.22],[38.16,8.2],[38.22,11.7],[38.29,15.19],[38.35,10.48],[38.42,13.9],[38.48,8.81],[38.54,12.53],[38.61,16.1],[38.67,10.02],[38.73,14.58],[38.79,11.09],[38.86,7.59],[38.92,12.91],[38.97,12.0],
  [39.03,9.42],[39.1,13.25],[39.16,16.91],[39.22,10.67],[39.29,15.35],[39.35,11.76],[39.42,8.18],[39.48,13.64],[39.54,12.7],[39.61,10.05],[39.67,13.95],[39.73,8.8],[39.79,12.39],[39.86,15.98],[39.92,11.14],[39.97,14.65]
];

var notes = [
  { text: "USTARCH SAV Bratislava, 1994", x: 127, y: 82, size: 22, len: 313 },
  { text: "Pv/Ev = 0.16 - 0.20", x: 127, y: 110, size: 22, len: 178 },
  { text: "Lvz=0.32exp[0.95 SQRT(0.18)] [Evd^[\u00b0 1.04-", x: 124, y: 157, size: 18.6, len: 421 },
  { text: "0.233 SQRT(0.18)]", x: 172, y: 184, size: 18.6, len: 178 },
  { text: "R = 0.922", x: 192, y: 228, size: 22, len: 91 }
];

var width = 831, height = 655;
var plotL = 84, plotR = 820, plotT = 33.3, plotB = 582.3;

var svg = d3.select("#chart").append("svg")
  .attr("width", width)
  .attr("height", height);

var x = d3.scaleLinear().domain([0, 70]).range([plotL, plotR]);
var y = d3.scaleLinear().domain([0, 35]).range([plotB, plotT]);

// stretch glyphs sideways a bit, the original type is wider than Arial
function stretch(sel, k) {
  sel.each(function () {
    var w = this.getComputedTextLength();
    d3.select(this).attr("textLength", w * k).attr("lengthAdjust", "spacingAndGlyphs");
  });
}

function axisGroup(axis, tx, ty) {
  var g = svg.append("g").attr("transform", "translate(" + tx + "," + ty + ")").call(axis);
  g.select(".domain").remove();
  g.selectAll("line").attr("stroke", "#000").attr("stroke-width", 2);
  g.selectAll("text").attr("font-size", 19).attr("font-family", "Liberation Sans, Arial, sans-serif").attr("fill", "#000");
  return g;
}

// scatter
var allPts = bandLow.concat(bandMid, bandUp, bandTop, bandCore, bandExtra, sparsePts);
svg.append("g").selectAll("circle")
  .data(allPts)
  .join("circle")
  .attr("cx", function (d) { return x(d[0]); })
  .attr("cy", function (d) { return y(d[1]); })
  .attr("r", 3.5)
  .attr("fill", "#fff")
  .attr("stroke", "#000")
  .attr("stroke-width", 1.25);

// fit curve
var fit = fitEvd.map(function (v, i) { return [v, fitLvz[i]]; });
svg.append("path")
  .datum(fit)
  .attr("fill", "none")
  .attr("stroke", "#000")
  .attr("stroke-width", 2)
  .attr("stroke-dasharray", "7,5")
  .attr("d", d3.line().x(function (d) { return x(d[0]); }).y(function (d) { return y(d[1]); }).curve(d3.curveMonotoneX));

// bottom
var gb = axisGroup(d3.axisBottom(x).tickValues(xMajor).tickSize(11).tickPadding(10).tickFormat(d3.format("d")), 0, plotB);
stretch(gb.selectAll("text"), 1.12);
axisGroup(d3.axisBottom(x).tickValues(xMinor).tickSize(6).tickFormat(""), 0, plotB);
// top, ticks inside
axisGroup(d3.axisTop(x).tickValues(xMajor).tickSize(-10).tickFormat(""), 0, plotT);
axisGroup(d3.axisTop(x).tickValues(xMinor).tickSize(-6).tickFormat(""), 0, plotT);
// left
var gl = axisGroup(d3.axisLeft(y).tickValues(yMajor).tickSize(10).tickPadding(6).tickFormat(d3.format("d")), plotL, 0);
stretch(gl.selectAll("text"), 1.12);
axisGroup(d3.axisLeft(y).tickValues(yMinor).tickSize(6).tickFormat(""), plotL, 0);
// right, ticks inside
axisGroup(d3.axisRight(y).tickValues(yMajor).tickSize(-10).tickFormat(""), plotR, 0);
axisGroup(d3.axisRight(y).tickValues(yMinor).tickSize(-6).tickFormat(""), plotR, 0);

// frame
svg.append("rect")
  .attr("x", plotL).attr("y", plotT)
  .attr("width", plotR - plotL).attr("height", plotB - plotT)
  .attr("fill", "none").attr("stroke", "#000").attr("stroke-width", 2);

// annotation texts
svg.selectAll("text.note")
  .data(notes)
  .join("text")
  .attr("class", "note")
  .attr("x", function (d) { return d.x; })
  .attr("y", function (d) { return d.y; })
  .attr("font-size", function (d) { return d.size; })
  .attr("textLength", function (d) { return d.len; })
  .attr("lengthAdjust", "spacingAndGlyphs")
  .text(function (d) { return d.text; });

// legend line
svg.append("line")
  .attr("x1", 118).attr("x2", 176)
  .attr("y1", 218.3).attr("y2", 218.3)
  .attr("stroke", "#000").attr("stroke-width", 1.5)
  .attr("stroke-dasharray", "6,4");

// axis titles
var xt = svg.append("text")
  .attr("x", 452).attr("y", 651)
  .attr("text-anchor", "middle")
  .attr("font-size", 19.5)
  .text("Evd in klx");
stretch(xt, 1.07);

var yt = svg.append("text")
  .attr("transform", "translate(38,308) rotate(-90)")
  .attr("text-anchor", "middle")
  .attr("font-size", 19.5)
  .style("white-space", "pre")
  .text("Lvz  kcd/m2");
stretch(yt, 1.07);
</script>
</body>
</html>
